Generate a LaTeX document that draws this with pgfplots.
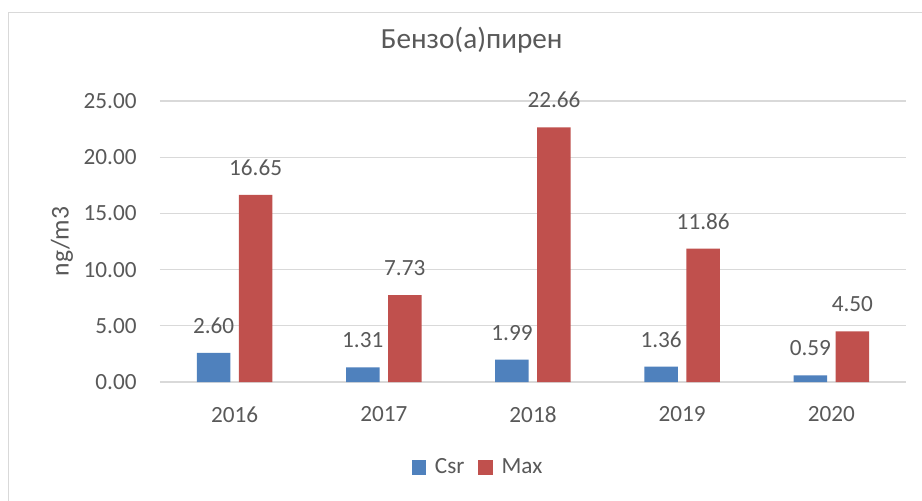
\documentclass[border=0pt]{standalone}
\usepackage{fontspec}
\setmainfont{Carlito}
\usepackage{pgfplots}
\pgfplotsset{compat=1.18}
\definecolor{txt}{HTML}{595959}
\definecolor{grd}{HTML}{D9D9D9}
\definecolor{cblue}{HTML}{4F81BD}
\definecolor{cred}{HTML}{C0504D}
\pgfkeys{/pgf/number format/.cd, fixed, fixed zerofill, precision=2, assume math mode=true}
\begin{document}
\begin{tikzpicture}
\useasboundingbox (0,0) rectangle (461pt,250pt);
\fill[white] (0,0) rectangle (461pt,250pt);
\draw[grd, line width=0.6pt] (4.15pt,-2pt) -- (4.15pt,243.85pt) -- (465pt,243.85pt);
\begin{axis}[
  at={(80pt,59pt)}, anchor=south west,
  scale only axis, width=373pt, height=140.5pt,
  xmin=-0.5, xmax=4.5, ymin=0, ymax=25,
  xtick={0,1,2,3,4}, xticklabels={2016,2017,2018,2019,2020},
  ytick={0,5,10,15,20,25},
  axis line style={draw=none},
  major tick length=0pt,
  ymajorgrids, grid style={grd, line width=0.6pt},
  ybar=4.25pt, bar width=16.75pt,
  tick label style={font=\fontsize{11.6}{13}\selectfont, text=txt},
  yticklabel style={inner sep=0pt, anchor=east, xshift=-11.5pt},
  xticklabel style={inner sep=0pt, anchor=north, yshift=-12pt},
  nodes near coords,
  every node near coord/.append style={font=\fontsize{11.6}{13}\selectfont, text=txt, inner sep=0pt, anchor=south, yshift=9.5pt},
  title={Бензо(а)пирен},
  title style={at={(axis description cs:0.4178,1.1434)}, anchor=base, font=\fontsize{14.6}{16}\selectfont, text=txt},
  ylabel={ng/m3},
  ylabel style={at={(axis description cs:-0.1314,0.5)}, anchor=center, font=\fontsize{12.8}{14}\selectfont, text=txt},
  legend columns=2,
  legend style={at={(axis description cs:0.4276,-0.3043)}, anchor=center, draw=none, fill=none,
    font=\fontsize{11.6}{13}\selectfont, text=txt,
    /tikz/every odd column/.append style={column sep=2.5pt},
    /tikz/every even column/.append style={column sep=4.85pt}},
]
\addplot[fill=cblue, draw=none, legend image code/.code={\fill[cblue] (0pt,-3.6pt) rectangle (7.2pt,3.6pt);}]
  coordinates {(0,2.60) (1,1.31) (2,1.99) (3,1.36) (4,0.59)};
\addplot[fill=cred, draw=none, legend image code/.code={\fill[cred] (0pt,-3.6pt) rectangle (7.2pt,3.6pt);}]
  coordinates {(0,16.65) (1,7.73) (2,22.66) (3,11.86) (4,4.50)};
\legend{Csr, Max}
\end{axis}
\end{tikzpicture}
\end{document}
